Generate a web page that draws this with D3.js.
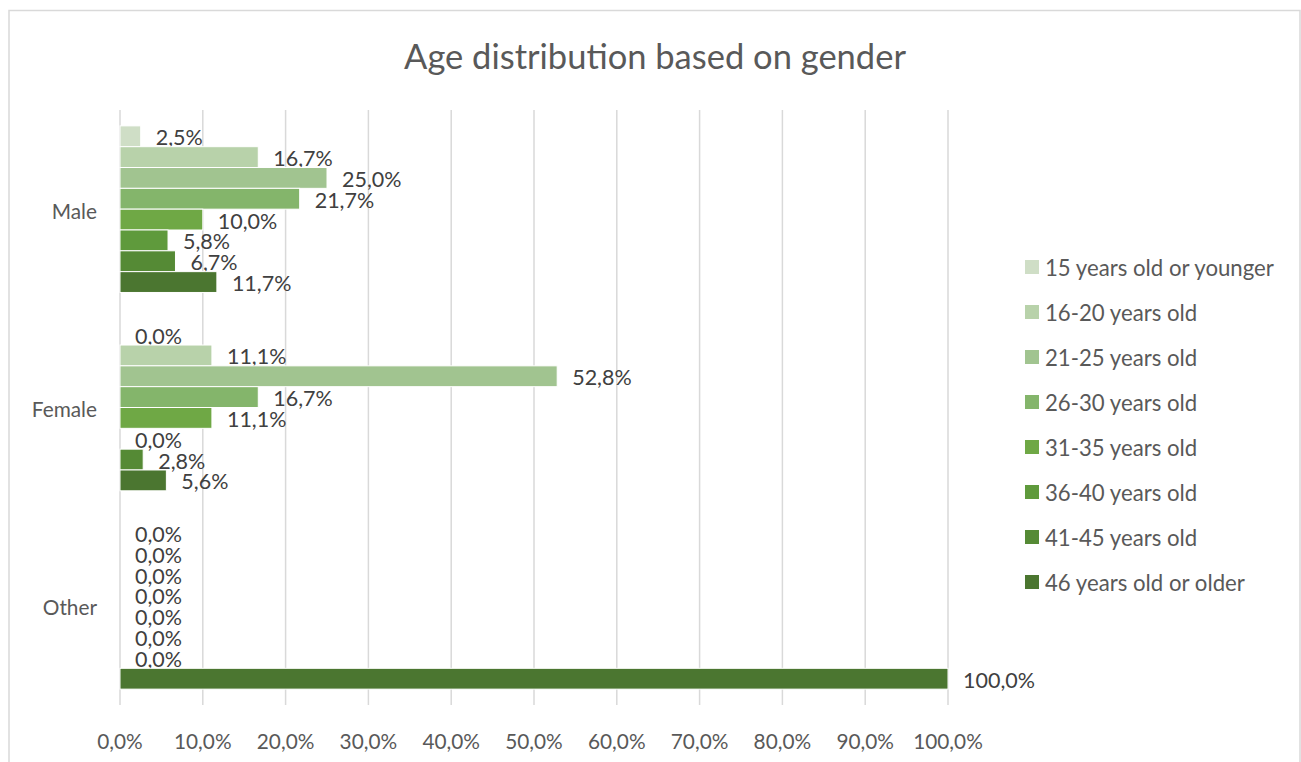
<!DOCTYPE html>
<html>
<head>
<meta charset="utf-8">
<script src="https://cdn.jsdelivr.net/npm/d3@7"></script>
<style>
  html, body { margin: 0; padding: 0; background: #fff; }
  svg { display: block; font-family: Lato, "Open Sans", sans-serif; }
</style>
</head>
<body>
<svg id="chart" width="1301" height="762"></svg>
<script>
// Share of respondents per age bracket, by gender (fractions of 1)
const genders = ["Male", "Female", "Other"];
const ageGroups = [
  "15 years old or younger",
  "16-20 years old",
  "21-25 years old",
  "26-30 years old",
  "31-35 years old",
  "36-40 years old",
  "41-45 years old",
  "46 years old or older"
];
const maleShares   = [0.025, 0.167, 0.250, 0.217, 0.100, 0.058, 0.067, 0.117];
const femaleShares = [0.000, 0.111, 0.528, 0.167, 0.111, 0.000, 0.028, 0.056];
const otherShares  = [0.000, 0.000, 0.000, 0.000, 0.000, 0.000, 0.000, 1.000];
const axisTicks = [0, 0.1, 0.2, 0.3, 0.4, 0.5, 0.6, 0.7, 0.8, 0.9, 1.0];
const palette = ["#cfdec6", "#b8d2aa", "#a1c490", "#84b56b", "#6fa845", "#5f9a3c", "#558a35", "#4b7630"];
const chartTitle = "Age distribution based on gender";

const sharesByGender = { Male: maleShares, Female: femaleShares, Other: otherShares };

// Percent format with a decimal comma: 0.025 -> "2,5%"
const locale = d3.formatLocale({ decimal: ",", thousands: ".", grouping: [3], currency: ["", "€"] });
const pct = locale.format(".1%");

const svg = d3.select("#chart");

// chart frame
svg.append("rect")
  .attr("x", 9).attr("y", 10.5)
  .attr("width", 1291).attr("height", 780)
  .attr("fill", "#fff")
  .attr("stroke", "#d9d9d9").attr("stroke-width", 1.5);

svg.append("text")
  .attr("x", 655).attr("y", 55)
  .attr("text-anchor", "middle").attr("dominant-baseline", "central")
  .attr("fill", "#595959").attr("font-size", 34.5)
  .text(chartTitle);

const plotTop = 110, plotBottom = 705;
const x = d3.scaleLinear().domain([0, 1]).range([120, 948]);
const y = d3.scaleBand().domain(genders).range([plotTop, plotBottom])
  .paddingInner(0.16).paddingOuter(0.08);
const ySub = d3.scaleBand().domain(ageGroups).range([0, y.bandwidth()]);
const color = d3.scaleOrdinal().domain(ageGroups).range(palette);

// vertical gridlines
svg.append("g").selectAll("line").data(axisTicks).join("line")
  .attr("x1", d => x(d)).attr("x2", d => x(d))
  .attr("y1", plotTop).attr("y2", plotBottom)
  .attr("stroke", "#d9d9d9").attr("stroke-width", 1.5);

// value axis labels
svg.append("g").selectAll("text").data(axisTicks).join("text")
  .attr("x", d => x(d)).attr("y", 740)
  .attr("text-anchor", "middle").attr("dominant-baseline", "central")
  .attr("fill", "#595959").attr("font-size", 20.8)
  .text(d => pct(d));

// category labels
svg.append("g").selectAll("text").data(genders).join("text")
  .attr("x", 97).attr("y", d => y(d) + y.bandwidth() / 2 + 1)
  .attr("text-anchor", "end").attr("dominant-baseline", "central")
  .attr("fill", "#595959").attr("font-size", 20.8)
  .text(d => d);

// bars and data labels
const groups = svg.append("g").selectAll("g").data(genders).join("g")
  .attr("transform", d => `translate(0,${y(d)})`);

const rows = groups.selectAll("g").data(g => sharesByGender[g].map((v, i) => ({ age: ageGroups[i], value: v })))
  .join("g");

rows.append("rect")
  .attr("x", x(0))
  .attr("y", d => ySub(d.age))
  .attr("width", d => x(d.value) - x(0))
  .attr("height", ySub.bandwidth())
  .attr("fill", d => color(d.age))
  .attr("stroke", d => d.value > 0 ? "#fff" : "none")
  .attr("stroke-width", 1);

rows.append("text")
  .attr("x", d => x(d.value) + 15)
  .attr("y", d => ySub(d.age) + ySub.bandwidth() / 2 + 1)
  .attr("dominant-baseline", "central")
  .attr("fill", "#404040").attr("font-size", 21.5)
  .text(d => pct(d.value));

// legend
const legend = svg.append("g").selectAll("g").data(ageGroups).join("g")
  .attr("transform", (d, i) => `translate(1025,${267 + i * 45})`);
legend.append("rect")
  .attr("x", 0).attr("y", -7).attr("width", 14).attr("height", 14)
  .attr("fill", d => color(d));
legend.append("text")
  .attr("x", 20).attr("y", 0)
  .attr("dominant-baseline", "central")
  .attr("fill", "#595959").attr("font-size", 22.2)
  .text(d => d);
</script>
</body>
</html>
